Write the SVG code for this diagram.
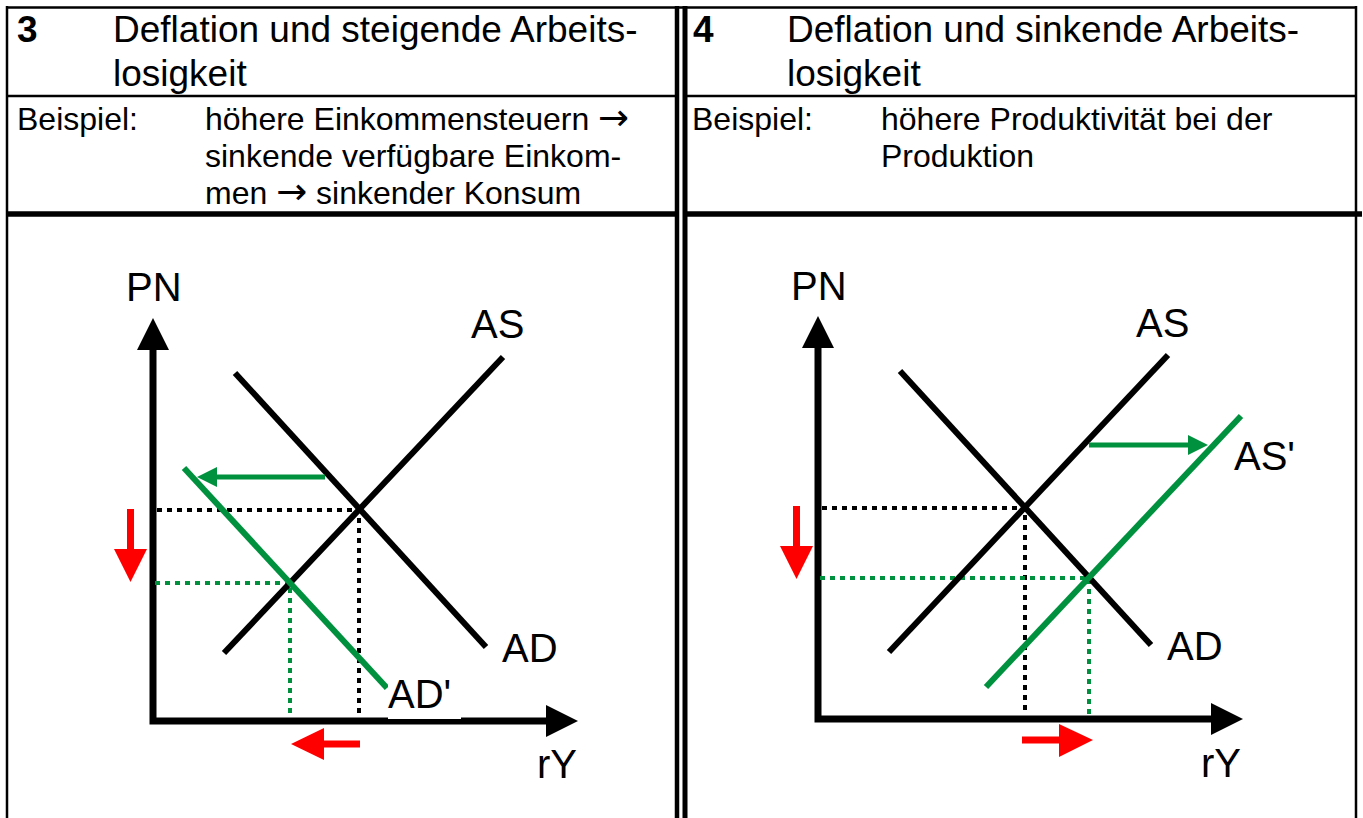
<svg xmlns="http://www.w3.org/2000/svg" width="1363" height="818" viewBox="0 0 1363 818">
<style>
text{font-family:"Liberation Sans",Arial,Helvetica,sans-serif;fill:#000}
.title{font-size:37px}
.num{font-size:37px;font-weight:bold}
.body{font-size:32px}
.arr{font-family:"DejaVu Sans",sans-serif;font-size:37px}
.lbl{font-size:40px}
.grid{stroke:#000;fill:none}
.axis{stroke:#000;stroke-width:7;fill:none}
.curve{stroke:#000;stroke-width:6;fill:none}
.gcurve{stroke:#00913f;stroke-width:6;fill:none}
.dot{stroke:#000;stroke-width:4;stroke-dasharray:5 5;fill:none}
.gdot{stroke:#00913f;stroke-width:4;stroke-dasharray:5 5;fill:none}
.garrow{stroke:#00913f;stroke-width:5;fill:none}
.rarrow{stroke:#ff0000;stroke-width:7;fill:none}
.bhead{fill:#000}
.ghead{fill:#00913f}
.rhead{fill:#ff0000}
</style>
<rect width="1363" height="818" fill="#fff"/>
<g id="table">
<line class="grid" x1="7" y1="7.5" x2="1357" y2="7.5" stroke-width="2.5"/>
<line class="grid" x1="7" y1="6" x2="7" y2="818" stroke-width="2.5"/>
<line class="grid" x1="1356" y1="6" x2="1356" y2="818" stroke-width="2.5"/>
<line class="grid" x1="677" y1="6" x2="677" y2="818" stroke-width="4.5"/>
<line class="grid" x1="685" y1="6" x2="685" y2="818" stroke-width="5"/>
<line class="grid" x1="7" y1="96" x2="677" y2="96" stroke-width="2.5"/>
<line class="grid" x1="685" y1="96" x2="1356" y2="96" stroke-width="2.5"/>
<line class="grid" x1="7" y1="214" x2="677" y2="214" stroke-width="5.5"/>
<line class="grid" x1="685" y1="214" x2="1362" y2="214" stroke-width="5.5"/>
</g>
<g id="header-3">
<text class="num" x="17" y="42">3</text>
<text class="title" x="113" y="42">Deflation und steigende Arbeits-</text>
<text class="title" x="113" y="86">losigkeit</text>
<text class="body" x="17" y="130">Beispiel:</text>
<text class="body" x="205" y="130">höhere Einkommensteuern <tspan class="arr">→</tspan></text>
<text class="body" x="205" y="167">sinkende verfügbare Einkom-</text>
<text class="body" x="205" y="204">men <tspan class="arr">→</tspan> sinkender Konsum</text>
</g>
<g id="header-4">
<text class="num" x="693" y="42">4</text>
<text class="title" x="787" y="42">Deflation und sinkende Arbeits-</text>
<text class="title" x="787" y="86">losigkeit</text>
<text class="body" x="692" y="130">Beispiel:</text>
<text class="body" x="881" y="130">höhere Produktivität bei der</text>
<text class="body" x="881" y="167">Produktion</text>
</g>
<g id="chart-3">
<g id="axes-3">
<polyline class="axis" points="153,345 153,721 550,721"/>
<polygon class="bhead" points="153,318 137,350 169,350"/>
<polygon class="bhead" points="578,721 546,705 546,737"/>
<text class="lbl" x="126" y="301">PN</text>
<text class="lbl" x="537" y="778">rY</text>
</g>
<g id="refs-3">
<polyline class="dot" points="157,510 359,510 359,717"/>
<polyline class="gdot" points="155,583 290,583 290,717"/>
</g>
<g id="AS-3">
<line class="curve" x1="224" y1="653" x2="503" y2="357"/>
<text class="lbl" x="471" y="338">AS</text>
</g>
<g id="AD-3">
<line class="curve" x1="235" y1="373" x2="486" y2="647"/>
<text class="lbl" x="502" y="662">AD</text>
</g>
<g id="ADprime-3">
<line class="gcurve" x1="184" y1="468" x2="387" y2="688"/>
<rect x="388" y="676" width="73" height="43" fill="#fff"/>
<text class="lbl" x="388" y="708">AD'</text>
</g>
</g>
<g id="chart-4">
<g id="axes-4">
<polyline class="axis" points="818,343 818,719 1215,719"/>
<polygon class="bhead" points="818,316 802,348 834,348"/>
<polygon class="bhead" points="1243,719 1211,703 1211,735"/>
<text class="lbl" x="791" y="300">PN</text>
<text class="lbl" x="1201" y="777">rY</text>
</g>
<g id="refs-4">
<polyline class="dot" points="822,508 1025,508 1025,715"/>
<polyline class="gdot" points="820,578 1089,578 1089,717"/>
</g>
<g id="AS-4">
<line class="curve" x1="889" y1="652" x2="1168" y2="355"/>
<text class="lbl" x="1136" y="337">AS</text>
</g>
<g id="AD-4">
<line class="curve" x1="900" y1="371" x2="1151" y2="645"/>
<text class="lbl" x="1167" y="660">AD</text>
</g>
<g id="ASprime-4">
<line class="gcurve" x1="986" y1="687" x2="1241" y2="416"/>
<text class="lbl" x="1234" y="470">AS'</text>
</g>
</g>
<g id="connectors">
<line class="garrow" x1="325" y1="477" x2="214" y2="477"/>
<polygon class="ghead" points="197,477 217,467 217,487"/>
<line class="rarrow" x1="130.5" y1="509" x2="130.5" y2="552"/>
<polygon class="rhead" points="130.5,582 114,549 147,549"/>
<line class="rarrow" x1="360" y1="744" x2="320" y2="744"/>
<polygon class="rhead" points="291,744 324,728 324,760"/>
<line class="garrow" x1="1089" y1="445" x2="1191" y2="445"/>
<polygon class="ghead" points="1208,445 1188,435 1188,455"/>
<line class="rarrow" x1="796.5" y1="506" x2="796.5" y2="549"/>
<polygon class="rhead" points="796.5,579 780,546 813,546"/>
<line class="rarrow" x1="1022" y1="740" x2="1062" y2="740"/>
<polygon class="rhead" points="1093,740 1059,724 1059,757"/>
</g>
</svg>
